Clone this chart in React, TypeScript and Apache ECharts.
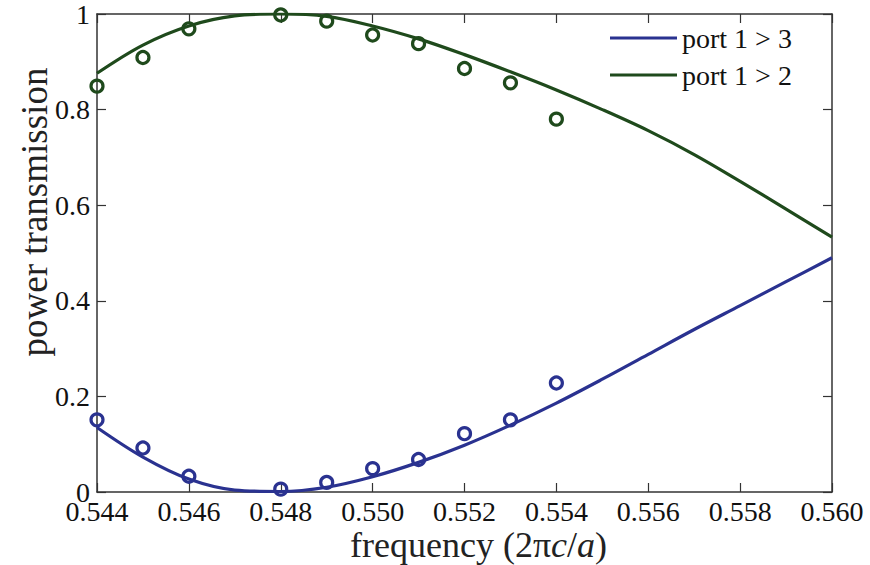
import React, { useEffect, useRef } from "react";
import * as echarts from "echarts";

// Simulated transmission curves, sampled every 0.001 (2πc/a)
const freqCurve = [
  0.544, 0.545, 0.546, 0.547, 0.548, 0.549, 0.55, 0.551, 0.552, 0.553, 0.554,
  0.555, 0.556, 0.557, 0.558, 0.559, 0.56,
];
const port13Curve = [
  0.135, 0.073, 0.027, 0.004, 0.001, 0.01, 0.032, 0.062, 0.098, 0.14, 0.186,
  0.236, 0.288, 0.34, 0.39, 0.44, 0.49,
];
const port12Curve = [
  0.876, 0.935, 0.975, 0.996, 1.0, 0.995, 0.975, 0.948, 0.915, 0.879, 0.841,
  0.8, 0.756, 0.706, 0.65, 0.592, 0.533,
];

// Measured points (open circles)
const freqMeasured = [0.544, 0.545, 0.546, 0.548, 0.549, 0.55, 0.551, 0.552, 0.553, 0.554];
const port13Measured = [0.151, 0.092, 0.033, 0.006, 0.02, 0.049, 0.068, 0.122, 0.151, 0.228];
const port12Measured = [0.849, 0.909, 0.969, 0.998, 0.985, 0.956, 0.938, 0.886, 0.856, 0.78];

const seriesNames = ["port 1 > 3", "port 1 > 2"];
const xTicks = { min: 0.544, max: 0.56, step: 0.002 };
const yTicks = { min: 0, max: 1, step: 0.2 };

const BLUE = "#2a3290";
const GREEN = "#1f4a1c";
const AXIS = "#333333";
const SERIF = "Liberation Serif";

const pairs = (xs: number[], ys: number[]) => xs.map((x, i) => [x, ys[i]]);

export default function App() {
  const ref = useRef<HTMLDivElement>(null);

  useEffect(() => {
    if (!ref.current) return;
    const chart = echarts.init(ref.current, undefined, { renderer: "svg" });

    const axisCommon = {
      axisLine: { show: true, onZero: false, lineStyle: { color: AXIS, width: 1.5 } },
      axisTick: { show: true, inside: true, length: 9, lineStyle: { color: AXIS, width: 1.2 } },
      splitLine: { show: false },
    };

    const lineSeries = (name: string, ys: number[], color: string) => ({
      name,
      type: "line",
      data: pairs(freqCurve, ys),
      smooth: 0.35,
      showSymbol: false,
      symbol: "none",
      lineStyle: { color, width: 3.2 },
      itemStyle: { color },
      z: 3,
    });

    const markerSeries = (name: string, ys: number[], color: string) => ({
      name,
      type: "scatter",
      data: pairs(freqMeasured, ys),
      symbol: "circle",
      symbolSize: 12,
      itemStyle: { color: "rgba(0,0,0,0)", borderColor: color, borderWidth: 3.2, opacity: 1 },
      z: 4,
    });

    chart.setOption({
      animation: false,
      backgroundColor: "#ffffff",
      grid: { left: 97, right: 38, top: 10, bottom: 73, containLabel: false },
      legend: {
        data: seriesNames.map((n) => ({ name: n, icon: "rect" })),
        orient: "vertical",
        left: 610,
        top: 23,
        itemWidth: 67,
        itemHeight: 3,
        itemGap: 7,
        textStyle: { fontFamily: SERIF, fontSize: 28, color: "#111", lineHeight: 30 },
        padding: 0,
      },
      xAxis: [
        {
          type: "value",
          position: "bottom",
          min: xTicks.min,
          max: xTicks.max,
          interval: xTicks.step,
          ...axisCommon,
          axisLabel: {
            margin: 9,
            lineHeight: 20,
            fontFamily: SERIF,
            fontSize: 28,
            color: "#111",
            formatter: (v: number) => v.toFixed(3),
          },
        },
        {
          type: "value",
          position: "top",
          min: xTicks.min,
          max: xTicks.max,
          interval: xTicks.step,
          ...axisCommon,
          axisLabel: { show: false },
        },
      ],
      yAxis: [
        {
          type: "value",
          position: "left",
          min: yTicks.min,
          max: yTicks.max,
          interval: yTicks.step,
          ...axisCommon,
          axisLabel: {
            margin: 7,
            lineHeight: 18,
            fontFamily: SERIF,
            fontSize: 28,
            color: "#111",
            formatter: (v: number) => String(Math.round(v * 10) / 10),
          },
        },
        {
          type: "value",
          position: "right",
          min: yTicks.min,
          max: yTicks.max,
          interval: yTicks.step,
          ...axisCommon,
          axisLabel: { show: false },
        },
      ],
      series: [
        lineSeries(seriesNames[0], port13Curve, BLUE),
        lineSeries(seriesNames[1], port12Curve, GREEN),
        markerSeries("port 1 > 3 measured", port13Measured, BLUE),
        markerSeries("port 1 > 2 measured", port12Measured, GREEN),
      ],
      graphic: [
        {
          type: "text",
          left: 350,
          top: 527,
          style: {
            text: "{r|frequency (2π}{i|c}{r|/}{i|a}{r|)}",
            rich: {
              r: { fontFamily: SERIF, fontSize: 36, lineHeight: 30, fill: "#222" },
              i: { fontFamily: SERIF, fontSize: 36, lineHeight: 30, fontStyle: "italic", fill: "#222" },
            },
          },
        },
        {
          type: "text",
          x: 34,
          y: 212,
          rotation: Math.PI / 2,
          style: {
            text: "power transmission",
            fontFamily: SERIF,
            fontSize: 37,
            fill: "#222",
            align: "center",
            verticalAlign: "middle",
          },
        },
      ],
    });

    return () => chart.dispose();
  }, []);

  return (
    <div
      ref={ref}
      style={{ position: "fixed", left: 0, top: 0, width: 870, height: 565, background: "#fff" }}
    />
  );
}
